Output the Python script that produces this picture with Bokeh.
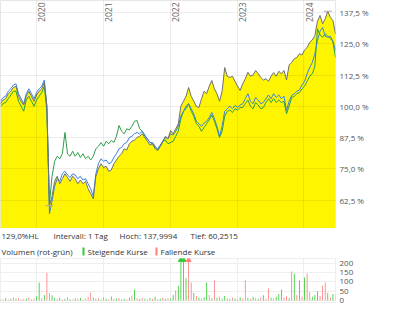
import math
import pandas as pd
from bokeh.plotting import figure
from bokeh.models import Range1d, FixedTicker, ColumnDataSource, Label
from bokeh.layouts import column
from bokeh.embed import file_html
from bokeh.resources import INLINE
from bokeh.core.properties import value

# ---------------- data ----------------
start_date = "2019-06-21"
end_date = "2024-06-21"
n_points = 131
years = [2020, 2021, 2022, 2023, 2024]

gray = [101, 102.5, 103, 105, 106, 107.5, 108, 104, 102, 100.5,
        104, 106, 104, 102, 104.5, 106, 107, 109.5, 100, 60.25,
        64, 70, 72, 69, 71, 73, 71.5, 70, 72, 71,
        69, 70.5, 69, 70, 67, 65, 63, 72, 75, 77,
        75.5, 76, 74, 74.5, 77, 78.5, 80, 81, 83, 82.5,
        85, 86, 86.5, 87.5, 88, 89, 87.5, 86, 84.5, 85,
        83.5, 82.3, 84, 86, 88, 87, 90.3, 89, 91, 93,
        100, 102, 104, 107.5, 104, 102, 100, 99.5, 103, 106,
        105, 108, 110.3, 107, 105, 102, 106, 115.5, 112, 111.5,
        112, 110, 108, 106.3, 109, 111, 113.6, 112, 112.5, 114.3,
        113, 111.5, 110.5, 111, 110, 112, 113.5, 112, 114, 113,
        114.3, 110.5, 116.5, 117.5, 119, 119.5, 121, 120.5, 122.5, 123.5,
        125.6, 126.5, 128.3, 134, 136.3, 133, 135, 138.0, 135.5, 134.3, 129]

blue = [102, 103.5, 104, 106, 107, 108.5, 109, 105, 103, 101,
        105, 107, 105, 103, 105.5, 107, 108, 110.5, 100, 57,
        62, 68, 71, 70, 73, 74, 72.5, 71.5, 73, 72.5,
        71, 72, 70.5, 71, 69, 67, 64, 73, 77, 79,
        78, 78.5, 77, 77.5, 79.5, 81, 83, 83.5, 85, 85.5,
        87.5, 88, 89, 89.5, 89, 90, 88.5, 87, 85.5, 85.5,
        84, 83, 84.5, 86, 87.5, 87, 89, 88.5, 90, 92,
        96, 98, 100, 101, 99, 97, 94, 93, 92, 93.3,
        94, 95.5, 97.5, 95, 92, 88, 92, 98, 99, 100,
        99, 100.3, 99.5, 100.5, 101, 103, 105, 102, 101, 103.5,
        102.5, 101, 101.5, 103, 104.5, 103, 105, 103.5, 104.5, 103,
        104, 98.3, 102, 104.3, 105, 106, 106.5, 108.5, 110, 113,
        115.5, 117.5, 121, 126.3, 130, 131.5, 128, 127.6, 128, 126, 122.3]

green = [100, 101, 101.5, 103, 104.5, 106, 106, 102, 100, 98,
         102.5, 104, 102, 100, 102.5, 104, 105.5, 108, 98, 61,
         72, 78, 80, 79, 81, 89.5, 81, 80, 82, 80,
         81.5, 79.5, 81, 79, 80, 78.5, 80, 83, 84, 85.5,
         84, 86, 85, 86.3, 85.5, 88, 92.3, 90, 89, 91,
         90.5, 92, 94, 94.3, 91, 90, 88, 87, 85.5, 85,
         83, 82.5, 84, 86, 86.5, 85, 85.5, 86, 88, 90,
         95, 98, 99, 101, 98, 96, 93, 92, 90, 91.5,
         93, 94.5, 96.5, 94, 91, 87.5, 90, 96, 98, 98.5,
         97.5, 99, 98.5, 99.5, 99.5, 101, 102.5, 100, 99, 101.5,
         100.5, 99, 99.5, 101.5, 103, 101.5, 103, 101.5, 102.5, 101.5,
         102, 97, 100, 103.5, 104, 105, 105.5, 107, 108, 110,
         112, 113, 116, 131, 128.5, 127.6, 129, 128, 127, 126, 119.5]

volume = [8, 5, 12, 6, 10, 16, 9, 14, 7, 5,
          11, 18, 6, 9, 22, 97, 12, 30, 150, 40,
          28, 12, 8, 15, 6, 10, 18, 7, 5, 12,
          9, 14, 6, 10, 20, 43, 15, 8, 12, 6,
          18, 9, 7, 22, 8, 11, 14, 6, 10, 5,
          16, 25, 60, 12, 8, 15, 10, 6, 13, 9,
          20, 7, 11, 16, 8, 12, 10, 30, 55, 80,
          240, 240, 120, 240, 97, 40, 25, 15, 10, 18,
          97, 30, 12, 108, 14, 20, 9, 25, 12, 8,
          15, 11, 7, 18, 9, 110, 14, 8, 20, 12,
          10, 16, 28, 9, 65, 15, 11, 20, 35, 60,
          18, 25, 12, 157, 146, 30, 108, 22, 124, 146,
          45, 20, 30, 50, 25, 81, 97, 40, 18, 35, 28]

falling = [0, 1, 0, 1, 0, 1, 0, 1, 1, 0,
           0, 1, 0, 1, 0, 0, 1, 0, 1, 1,
           0, 0, 1, 0, 1, 0, 1, 0, 1, 0,
           1, 0, 1, 1, 1, 1, 0, 0, 1, 0,
           1, 0, 1, 0, 1, 0, 1, 0, 0, 1,
           0, 1, 0, 1, 0, 1, 0, 1, 0, 1,
           0, 1, 0, 1, 0, 1, 0, 0, 1, 0,
           0, 0, 0, 1, 1, 0, 1, 0, 1, 0,
           0, 1, 0, 1, 0, 1, 0, 0, 1, 0,
           1, 0, 1, 0, 1, 1, 0, 1, 0, 1,
           0, 1, 0, 1, 1, 0, 1, 0, 0, 0,
           1, 1, 0, 1, 0, 1, 0, 1, 0, 1,
           1, 0, 0, 0, 1, 1, 1, 0, 1, 0, 1]

y_ticks = [62.5, 75.0, 87.5, 100.0, 112.5, 125.0, 137.5]
y_labels = ["62,5 %", "75,0 %", "87,5 %", "100,0 %", "112,5 %", "125,0 %", "137,5 %"]
vol_ticks = [0, 50, 100, 150, 200]

info_texts = ["129,0%HL", "Intervall: 1 Tag", "Hoch: 137,9994", "Tief: 60,2515"]
legend_texts = ["Volumen (rot-grün)", "Steigende Kurse", "Fallende Kurse"]
timestamp = "21.06.2024 21:59 Uhr"

# ---------------- styling ----------------
FONT_NAME = "Open Sans"
FONT = value(FONT_NAME)
YELLOW = "#fff500"
GRAY_LINE = "#707070"
BLUE = "#3b82dc"
GREEN = "#2e9e48"
UP = "#33cc33"
DOWN = "#ff7f7f"

dates = pd.date_range(start_date, end_date, periods=n_points)
year_dates = [pd.Timestamp(f"{y}-01-01") for y in years]
year_ms = [d.value / 1e6 for d in year_dates]
x_range = Range1d(pd.Timestamp(start_date), pd.Timestamp(end_date))


def style_right_axis(ax):
    ax.axis_line_color = None
    ax.major_tick_line_color = None
    ax.minor_tick_line_color = None
    ax.major_tick_out = 0
    ax.major_tick_in = 0
    ax.minor_tick_out = 0
    ax.major_label_standoff = 4
    ax.major_label_text_font = FONT_NAME
    ax.major_label_text_font_size = "8px"
    ax.major_label_text_color = "#555555"


Y_MIN, Y_MAX = 51.1, 142.3

main = figure(frame_width=335, frame_height=228, x_axis_type="datetime", x_range=x_range,
              y_range=Range1d(Y_MIN, Y_MAX), y_axis_location="right",
              x_axis_location=None, toolbar_location=None, output_backend="svg",
              min_border_left=0, min_border_right=65, min_border_top=0,
              min_border_bottom=0)
main.outline_line_color = "#e6e6e6"

src = ColumnDataSource(dict(x=dates, gray=gray, blue=blue, green=green))
main.varea(x="x", y1=0, y2="gray", source=src, fill_color=YELLOW)
main.line(x="x", y="green", source=src, line_color=GREEN, line_width=1)
main.line(x="x", y="blue", source=src, line_color=BLUE, line_width=1)
main.line(x="x", y="gray", source=src, line_color=GRAY_LINE, line_width=1)

# high / low marks
imin = gray.index(min(gray))
imax = gray.index(max(gray))
main.scatter(x=[dates[imin], dates[imax]], y=[gray[imin], gray[imax]],
             marker="dash", size=8, line_color="#aaaaaa", line_width=1)

main.yaxis.ticker = FixedTicker(ticks=y_ticks)
main.yaxis.major_label_overrides = dict(zip(y_ticks, y_labels))
style_right_axis(main.yaxis[0])

main.xgrid.ticker = FixedTicker(ticks=year_ms)
for g in (main.xgrid, main.ygrid):
    g.grid_line_color = "#000000"
    g.grid_line_alpha = 0.07
    g.level = "overlay"

main.text(x=year_dates, y=[Y_MAX] * len(years), text=[str(y) for y in years],
          angle=math.pi / 2, text_align="right", text_baseline="top",
          x_offset=2, y_offset=2, text_font=FONT, text_font_size="8.5px",
          text_color="#666666")

# ---------------- text rows ----------------
tf = figure(frame_width=400, frame_height=30, x_range=Range1d(0, 400), y_range=Range1d(30, 0),
            x_axis_location=None, y_axis_location=None, toolbar_location=None,
            output_backend="svg", min_border=0, min_border_left=0, min_border_right=0,
            min_border_top=0, min_border_bottom=0)
tf.grid.visible = False
tf.outline_line_color = None
tf.text(x=[1, 53, 119, 190], y=[7, 7, 7, 7], text=info_texts,
        text_baseline="middle", text_font=FONT, text_font_size="8px", text_color="#333333")
tf.text(x=[1, 87, 160], y=[23, 23, 23], text=legend_texts,
        text_baseline="middle", text_font=FONT, text_font_size="8px", text_color="#333333")
tf.rect(x=[83, 156], y=[23, 23], width=2, height=8, fill_color=[UP, DOWN], line_color=None)

# ---------------- volume ----------------
V_MIN, V_MAX = -10.8, 227
vf = figure(frame_width=335, frame_height=44, x_axis_type="datetime", x_range=x_range,
            y_range=Range1d(V_MIN, V_MAX), y_axis_location="right",
            x_axis_location=None, toolbar_location=None, output_backend="svg",
            min_border_left=0, min_border_right=65, min_border_top=0,
            min_border_bottom=10)
vf.outline_line_color = "#eeeeee"
vcolors = [DOWN if f else UP for f in falling]
vsrc = ColumnDataSource(dict(x=dates, top=volume, color=vcolors))
vf.vbar(x="x", top="top", bottom=0, width=4.5 * 86400000, source=vsrc,
        fill_color="color", line_color=None)
clip_x = [d for d, v in zip(dates, volume) if v > V_MAX]
clip_c = [c for c, v in zip(vcolors, volume) if v > V_MAX]
vf.scatter(x=clip_x, y=[V_MAX - 8] * len(clip_x), marker="triangle", size=5,
           fill_color=clip_c, line_color=clip_c)
vf.yaxis.ticker = FixedTicker(ticks=vol_ticks)
style_right_axis(vf.yaxis[0])
vf.xgrid.ticker = FixedTicker(ticks=year_ms)
vf.xgrid.grid_line_color = "#eeeeee"
vf.ygrid.grid_line_color = "#eeeeee"
vf.add_layout(Label(x=0, y=-5, x_units="screen", y_units="screen", text=timestamp,
                    text_baseline="middle", text_font=FONT_NAME, text_font_size="8px",
                    text_color="#b0b0b0"))

layout = column(main, tf, vf, spacing=0)
open("out.html", "w").write(file_html(layout, INLINE))
